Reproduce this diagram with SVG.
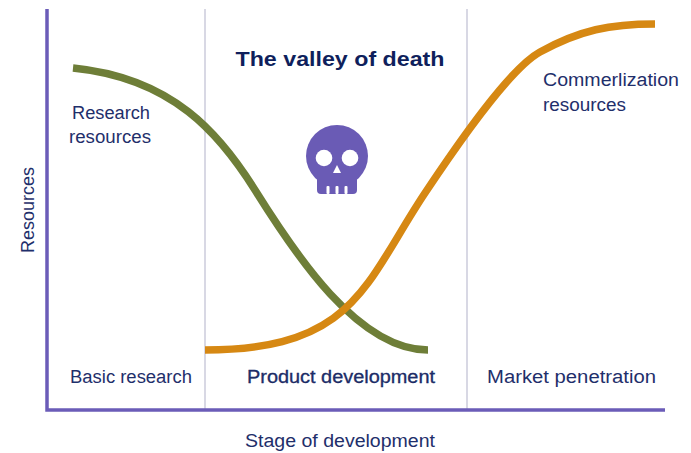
<svg xmlns="http://www.w3.org/2000/svg" width="691" height="453" viewBox="0 0 691 453">
<style>
.t{font-family:"Liberation Sans",Arial,sans-serif;font-size:18px;fill:#1F2F6B}
.title{font-family:"Liberation Sans",Arial,sans-serif;font-size:21px;font-weight:bold;fill:#0F1F5C}
.div{stroke:#D8D8E4;stroke-width:2;fill:none}
.axis{stroke:#6B5CB8;stroke-width:3.5;fill:none}
.curve{fill:none;stroke-width:7.5;stroke-linecap:butt}
</style>
<rect width="691" height="453" fill="#FFFFFF"/>
<g id="dividers">
<line class="div" x1="205" y1="9" x2="205" y2="409"/>
<line class="div" x1="467" y1="9" x2="467" y2="409"/>
</g>
<g id="axes">
<polyline class="axis" points="47,9 47,410 665,410"/>
</g>
<g id="connectors">
<path id="research-curve" class="curve" stroke="#6E7E38" d="M73,68 C173,78 220,134 255,190 C295,254 358,350 428,350"/>
<path id="commercial-curve" class="curve" stroke="#D68813" d="M205,350 C355,350 365,283 425,193 C460,140.5 510,68.5 540,52 C580,30 610,24 655,24"/>
</g>
<g id="title">
<text class="title" x="340" y="66" text-anchor="middle" textLength="209" lengthAdjust="spacingAndGlyphs">The valley of death</text>
</g>
<g id="skull" fill="#6A5BB5">
<circle cx="337" cy="156" r="31"/>
<path d="M317,168 H357 V190 Q357,194 353,194 H321 Q317,194 317,190 Z"/>
<circle cx="324" cy="158" r="8.3" fill="#FFFFFF"/>
<circle cx="350" cy="158" r="8.3" fill="#FFFFFF"/>
<polygon points="337,165 333,173 341,173" fill="#FFFFFF"/>
<rect x="326.5" y="186" width="3" height="8" rx="1" fill="#FFFFFF"/>
<rect x="335.5" y="186" width="3" height="8" rx="1" fill="#FFFFFF"/>
<rect x="344.5" y="186" width="3" height="8" rx="1" fill="#FFFFFF"/>
</g>
<g id="research-label">
<text class="t" x="111" y="119" text-anchor="middle" textLength="78" lengthAdjust="spacingAndGlyphs">Research</text>
<text class="t" x="110" y="143" text-anchor="middle" textLength="82" lengthAdjust="spacingAndGlyphs">resources</text>
</g>
<g id="commercial-label">
<text class="t" x="543" y="86" textLength="136" lengthAdjust="spacingAndGlyphs">Commerlization</text>
<text class="t" x="543" y="111" textLength="83" lengthAdjust="spacingAndGlyphs">resources</text>
</g>
<g id="stage-basic">
<text class="t" x="70" y="383" textLength="122" lengthAdjust="spacingAndGlyphs">Basic research</text>
</g>
<g id="stage-product">
<text class="t" x="247" y="383" textLength="188" lengthAdjust="spacingAndGlyphs" fill="#0F1F5C" stroke="#0F1F5C" stroke-width="0.3">Product development</text>
</g>
<g id="stage-market">
<text class="t" x="487" y="383" textLength="169" lengthAdjust="spacingAndGlyphs">Market penetration</text>
</g>
<g id="x-label">
<text class="t" x="340" y="447" text-anchor="middle" textLength="190" lengthAdjust="spacingAndGlyphs">Stage of development</text>
</g>
<g id="y-label">
<text class="t" transform="translate(34,210) rotate(-90)" x="0" y="0" text-anchor="middle" textLength="86" lengthAdjust="spacingAndGlyphs">Resources</text>
</g>
</svg>
